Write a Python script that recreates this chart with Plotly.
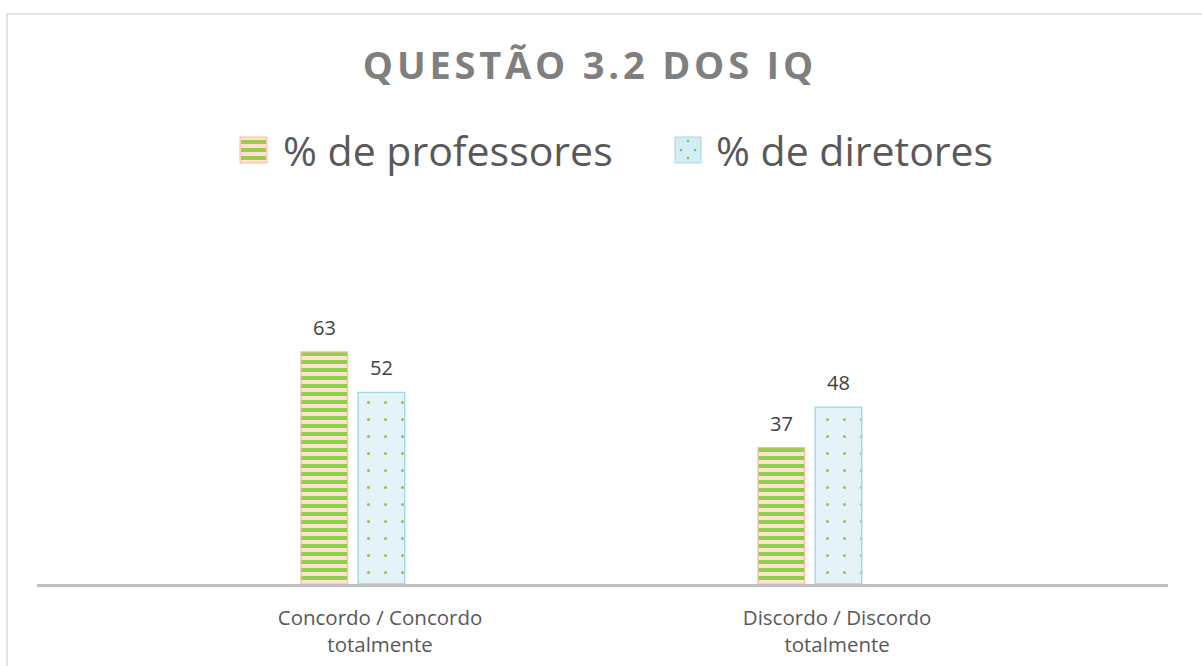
import plotly.graph_objects as go

# ---- data ----
categories = ["Concordo / Concordo<br>totalmente", "Discordo / Discordo<br>totalmente"]
series_names = ["% de professores", "% de diretores"]
professores = [63, 37]
diretores = [52, 48]
title_text = "QUESTÃO 3.2 DOS IQ"

# ---- layout geometry (pixels) ----
W, H = 1202, 666
PL, PR, PT, PB = 37, 1168, 326, 584


def px(X):
    return (X - PL) / (PR - PL)


def py(Y):
    return (PB - Y) / (PB - PT)


BAR_W = 0.102
OFF_P = -0.173
OFF_D = -0.048

fig = go.Figure()
fig.add_trace(go.Bar(
    x=categories, y=professores, name=series_names[0],
    width=BAR_W, offset=OFF_P,
    marker=dict(
        color="#fde4d0",
        line=dict(color="#f6bd98", width=1.2),
        pattern=dict(shape="-", fgcolor="#8fce4e", bgcolor="#fde3cf",
                     size=8, solidity=0.5, fillmode="replace"),
    ),
    showlegend=False,
))
fig.add_trace(go.Bar(
    x=categories, y=diretores, name=series_names[1],
    width=BAR_W, offset=OFF_D,
    marker=dict(
        color="#e2f2f7",
        line=dict(color="#a3d5e4", width=1.4),
        pattern=dict(shape=".", fgcolor="#7fcf4f", bgcolor="#e4f3f8",
                     size=17, solidity=0.025, fillmode="replace"),
    ),
    showlegend=False,
))

annotations = []
label_font = dict(family="Open Sans", size=20, color="#404040")
for i, v in enumerate(professores):
    annotations.append(dict(x=i + OFF_P + BAR_W / 2, y=v, xref="x", yref="y",
                            text=str(v), showarrow=False, yanchor="bottom", yshift=9,
                            font=label_font))
for i, v in enumerate(diretores):
    annotations.append(dict(x=i + OFF_D + BAR_W / 2, y=v, xref="x", yref="y",
                            text=str(v), showarrow=False, yanchor="bottom", yshift=9,
                            font=label_font))

legend_font = dict(family="Open Sans", size=41, color="#595959")
annotations.append(dict(x=px(281), y=py(150), xref="paper", yref="paper", text=series_names[0],
                        showarrow=False, xanchor="left", yanchor="middle", font=legend_font))
annotations.append(dict(x=px(714), y=py(150), xref="paper", yref="paper", text=series_names[1],
                        showarrow=False, xanchor="left", yanchor="middle", font=legend_font))

shapes = []
shapes.append(dict(type="rect", xref="paper", yref="paper",
                   x0=px(7), x1=px(1215), y0=py(680), y1=py(14),
                   line=dict(color="#d9d9d9", width=1.5), fillcolor="rgba(0,0,0,0)", layer="below"))
# legend swatch 1 (stripes)
shapes.append(dict(type="rect", xref="paper", yref="paper",
                   x0=px(240), x1=px(267), y0=py(163), y1=py(137),
                   line=dict(color="#f6bd98", width=1), fillcolor="#fde3cf"))
for yc in (142, 150, 158):
    shapes.append(dict(type="rect", xref="paper", yref="paper",
                       x0=px(241), x1=px(266), y0=py(yc + 2), y1=py(yc - 2),
                       line=dict(width=0), fillcolor="#9ccb4e"))
# legend swatch 2 (dots)
shapes.append(dict(type="rect", xref="paper", yref="paper",
                   x0=px(675), x1=px(701), y0=py(163), y1=py(137),
                   line=dict(color="#a3d5e4", width=1), fillcolor="#d3edf5"))
for (dx, dy) in ((688, 141), (681, 150), (695, 150), (688, 158)):
    shapes.append(dict(type="circle", xref="paper", yref="paper",
                       x0=px(dx - 1.2), x1=px(dx + 1.2), y0=py(dy + 1.2), y1=py(dy - 1.2),
                       line=dict(width=0), fillcolor="#6cc04a"))

spaced_title = "\u200a".join(list(title_text))

fig.update_layout(
    width=W, height=H,
    margin=dict(l=PL, r=W - PR, t=PT, b=H - PB, pad=0, autoexpand=False),
    paper_bgcolor="white", plot_bgcolor="white",
    title=dict(text=spaced_title, x=588 / W, xanchor="center", y=1 - 66 / H, yanchor="middle",
               xref="container", yref="container",
               font=dict(family="Open Sans", size=38, color="#7f7f7f", weight="bold")),
    xaxis=dict(type="category", range=[-0.7505, 1.724], showline=True, linecolor="#bfbfbf",
               linewidth=2.5, showgrid=False, zeroline=False, ticks="",
               ticklabelstandoff=14, automargin=False,
               tickfont=dict(family="Open Sans", size=20.5, color="#595959")),
    yaxis=dict(range=[0, 70], visible=False, showgrid=False, zeroline=False, automargin=False),
    annotations=annotations,
    shapes=shapes,
    showlegend=False,
    barmode="group",
)

fig.write_html("out.html", config={"displayModeBar": False},
               post_script="document.body.style.margin='0';")
